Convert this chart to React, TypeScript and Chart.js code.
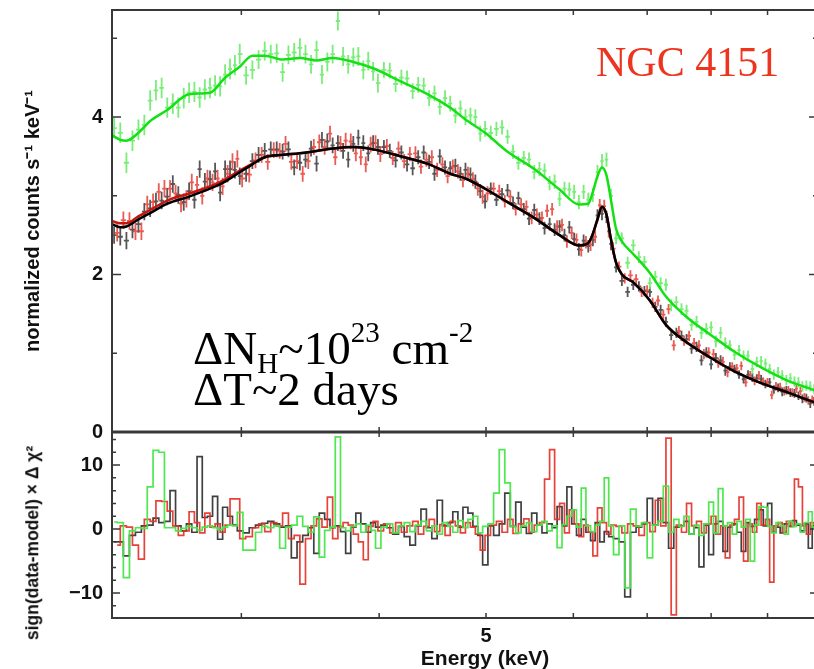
import React, { useEffect, useRef } from "react";
import { Chart, registerables } from "chart.js";

Chart.register(...registerables);

// ---------- data ----------
const energy = [
  2.30, 2.33, 2.36, 2.39, 2.42, 2.45, 2.48, 2.51, 2.54, 2.57, 2.60, 2.63, 2.66, 2.69, 2.72, 2.75, 2.78, 2.81, 2.84, 2.87, 2.90, 2.93, 2.96, 2.99,
  3.03, 3.07, 3.11, 3.15, 3.19, 3.23, 3.27, 3.31, 3.35, 3.39, 3.43, 3.47, 3.51, 3.55, 3.59, 3.63, 3.67, 3.71, 3.75, 3.79, 3.83, 3.87, 3.91, 3.95, 3.99,
  4.04, 4.09, 4.14, 4.19, 4.24, 4.29, 4.34, 4.39, 4.44, 4.49, 4.54, 4.59, 4.64, 4.69, 4.74, 4.79, 4.84, 4.89, 4.94, 4.99,
  5.05, 5.11, 5.17, 5.23, 5.29, 5.35, 5.41, 5.47, 5.53, 5.59, 5.65, 5.71, 5.77, 5.83, 5.89, 5.95, 6.01, 6.07, 6.13, 6.19, 6.25, 6.31, 6.37, 6.43, 6.49,
  6.56, 6.64, 6.72, 6.80, 6.88, 6.96, 7.04, 7.12, 7.20, 7.28, 7.36, 7.44, 7.52, 7.60, 7.68, 7.76, 7.84, 7.92, 8.00, 8.08, 8.16, 8.24, 8.32, 8.40,
  8.48, 8.56, 8.64, 8.72, 8.80, 8.88, 8.96, 9.04, 9.12, 9.20, 9.28, 9.36, 9.44, 9.52, 9.60, 9.68, 9.76, 9.84, 9.92,
];

// the red spectrum is binned half a channel off the black/green one
const energyRed = [
  2.315, 2.345, 2.375, 2.405, 2.435, 2.465, 2.495, 2.525, 2.555, 2.585, 2.615, 2.645, 2.675, 2.705, 2.735, 2.765, 2.795, 2.825, 2.855, 2.885, 2.915, 2.945, 2.975, 3.005,
  3.05, 3.09, 3.13, 3.17, 3.21, 3.25, 3.29, 3.33, 3.37, 3.41, 3.45, 3.49, 3.53, 3.57, 3.61, 3.65, 3.69, 3.73, 3.77, 3.81, 3.85, 3.89, 3.93, 3.97, 4.01,
  4.065, 4.115, 4.165, 4.215, 4.265, 4.315, 4.365, 4.415, 4.465, 4.515, 4.565, 4.615, 4.665, 4.715, 4.765, 4.815, 4.865, 4.915, 4.965, 5.015,
  5.08, 5.14, 5.20, 5.26, 5.32, 5.38, 5.44, 5.50, 5.56, 5.62, 5.68, 5.74, 5.80, 5.86, 5.92, 5.98, 6.04, 6.10, 6.16, 6.22, 6.28, 6.34, 6.40, 6.46, 6.52,
  6.60, 6.68, 6.76, 6.84, 6.92, 7.00, 7.08, 7.16, 7.24, 7.32, 7.40, 7.48, 7.56, 7.64, 7.72, 7.80, 7.88, 7.96, 8.04, 8.12, 8.20, 8.28, 8.36, 8.44,
  8.52, 8.60, 8.68, 8.76, 8.84, 8.92, 9.00, 9.08, 9.16, 9.24, 9.32, 9.40, 9.48, 9.56, 9.64, 9.72, 9.80, 9.88, 9.96,
];

const greenData = [
  3.86, 3.80, 3.42, 3.70, 3.84, 3.90, 4.21, 4.34, 4.37, 4.12,
  4.17, 4.12, 4.24, 4.31, 4.32, 4.25, 4.35, 4.37, 4.40, 4.39,
  4.54, 4.61, 4.66, 4.80, 4.53, 4.60, 4.73, 4.84, 4.80, 4.81,
  4.57, 4.79, 4.82, 4.88, 4.80, 4.67, 4.85, 4.54, 4.70, 4.80,
  5.22, 4.77, 4.67, 4.76, 4.77, 4.60, 4.71, 4.58, 4.43, 4.60,
  4.59, 4.42, 4.50, 4.49, 4.33, 4.41, 4.40, 4.24, 4.30, 4.13,
  4.24, 4.17, 4.02, 4.11, 4.00, 4.02, 4.00, 3.79, 3.85, 3.80,
  3.85, 3.87, 3.75, 3.56, 3.42, 3.48, 3.46, 3.30, 3.34, 3.32,
  3.16, 3.18, 2.96, 3.09, 3.08, 3.05, 2.92, 3.05, 2.95, 3.01,
  3.30, 3.44, 3.46, 3.00, 2.46, 2.46, 2.15, 2.37, 2.22, 2.16,
  1.89, 1.97, 1.89, 1.87, 1.61, 1.65, 1.56, 1.54, 1.36, 1.40,
  1.26, 1.31, 1.33, 1.15, 1.26, 1.13, 1.10, 0.98, 1.04, 0.97,
  0.97, 0.80, 0.89, 0.90, 0.87, 0.80, 0.73, 0.76, 0.72, 0.66,
  0.68, 0.64, 0.63, 0.58, 0.59, 0.58, 0.54,
];

const blackData = [
  2.50, 2.48, 2.43, 2.57, 2.64, 2.80, 2.84, 2.93, 2.94, 2.99,
  3.15, 3.01, 2.92, 3.06, 2.95, 3.34, 3.18, 3.21, 3.31, 3.04,
  3.34, 3.34, 3.33, 3.25, 3.28, 3.44, 3.52, 3.57, 3.59, 3.59,
  3.56, 3.59, 3.36, 3.42, 3.46, 3.60, 3.41, 3.71, 3.69, 3.64,
  3.67, 3.57, 3.46, 3.66, 3.74, 3.67, 3.54, 3.67, 3.62, 3.62,
  3.57, 3.45, 3.55, 3.40, 3.35, 3.49, 3.55, 3.43, 3.28, 3.50,
  3.36, 3.35, 3.38, 3.28, 3.33, 3.27, 3.18, 3.06, 2.93, 3.09,
  2.95, 3.02, 3.07, 2.91, 2.97, 2.83, 2.71, 2.82, 2.71, 2.59,
  2.64, 2.57, 2.61, 2.50, 2.60, 2.45, 2.32, 2.43, 2.36, 2.44,
  2.75, 2.77, 2.73, 2.39, 2.09, 1.92, 1.78, 1.87, 1.85, 1.79,
  1.78, 1.59, 1.55, 1.40, 1.23, 1.26, 1.22, 1.18, 1.06, 1.08,
  0.91, 1.01, 0.86, 0.94, 0.91, 0.78, 0.83, 0.80, 0.73, 0.67,
  0.73, 0.69, 0.68, 0.67, 0.61, 0.63, 0.54, 0.56, 0.51, 0.53,
  0.50, 0.49, 0.46, 0.42, 0.43, 0.36, 0.39,
];

const redData = [
  2.53, 2.69, 2.68, 2.55, 2.55, 2.89, 2.92, 3.05, 3.09, 3.09,
  3.03, 2.90, 2.96, 3.17, 3.14, 3.00, 3.22, 3.17, 3.22, 3.12,
  3.28, 3.43, 3.47, 3.22, 3.27, 3.45, 3.52, 3.43, 3.58, 3.57,
  3.66, 3.43, 3.44, 3.28, 3.44, 3.62, 3.68, 3.62, 3.79, 3.49,
  3.66, 3.70, 3.69, 3.54, 3.49, 3.40, 3.65, 3.67, 3.53, 3.63,
  3.48, 3.60, 3.44, 3.53, 3.54, 3.37, 3.46, 3.49, 3.33, 3.40,
  3.25, 3.37, 3.31, 3.20, 3.28, 3.21, 3.09, 2.99, 3.03, 3.09,
  3.06, 2.93, 2.99, 2.83, 2.89, 2.86, 2.72, 2.76, 2.72, 2.81,
  2.83, 2.61, 2.63, 2.42, 2.53, 2.44, 2.31, 2.41, 2.38, 2.48,
  2.88, 2.87, 2.55, 2.33, 2.10, 1.95, 1.99, 1.94, 1.78, 1.80,
  1.64, 1.67, 1.49, 1.56, 1.10, 1.28, 1.16, 1.22, 1.13, 1.10,
  0.99, 1.01, 0.99, 0.88, 0.89, 0.76, 0.83, 0.81, 0.84, 0.63,
  0.72, 0.65, 0.72, 0.64, 0.63, 0.47, 0.58, 0.57, 0.52, 0.53,
  0.50, 0.55, 0.52, 0.44, 0.40, 0.41, 0.39,
];

const greenErr = [
  0.13, 0.13, 0.13, 0.13, 0.13, 0.13, 0.13, 0.13, 0.13, 0.13, 0.13, 0.13, 0.13, 0.13, 0.13, 0.13, 0.13, 0.13, 0.13, 0.13, 0.13, 0.13, 0.13, 0.13,
  0.12, 0.12, 0.12, 0.12, 0.12, 0.12, 0.12, 0.12, 0.12, 0.12, 0.12, 0.12, 0.12, 0.12, 0.12, 0.12, 0.12, 0.12, 0.12, 0.12, 0.12, 0.12, 0.12, 0.12, 0.12,
  0.10, 0.10, 0.10, 0.10, 0.10, 0.10, 0.10, 0.10, 0.10, 0.10, 0.10, 0.10, 0.10, 0.10, 0.10, 0.10, 0.10, 0.10, 0.10, 0.10,
  0.09, 0.09, 0.09, 0.09, 0.09, 0.09, 0.09, 0.09, 0.09, 0.09, 0.09, 0.09, 0.09, 0.09, 0.09, 0.09, 0.09, 0.09, 0.09, 0.09, 0.09, 0.09, 0.09, 0.09, 0.09,
  0.075, 0.075, 0.075, 0.075, 0.075, 0.075, 0.075, 0.075, 0.075, 0.075, 0.075, 0.075, 0.075, 0.075, 0.075, 0.075, 0.075, 0.075, 0.075, 0.075, 0.075, 0.075,
  0.065, 0.065, 0.065, 0.065, 0.065, 0.065, 0.065, 0.065, 0.065, 0.065, 0.065, 0.065, 0.065, 0.065, 0.065, 0.065, 0.065, 0.065, 0.065, 0.065, 0.065,
];

const blackErr = [
  0.11, 0.11, 0.11, 0.11, 0.11, 0.11, 0.11, 0.11, 0.11, 0.11, 0.11, 0.11, 0.11, 0.11, 0.11, 0.11, 0.11, 0.11, 0.11, 0.11, 0.11, 0.11, 0.11, 0.11,
  0.10, 0.10, 0.10, 0.10, 0.10, 0.10, 0.10, 0.10, 0.10, 0.10, 0.10, 0.10, 0.10, 0.10, 0.10, 0.10, 0.10, 0.10, 0.10, 0.10, 0.10, 0.10, 0.10, 0.10, 0.10,
  0.09, 0.09, 0.09, 0.09, 0.09, 0.09, 0.09, 0.09, 0.09, 0.09, 0.09, 0.09, 0.09, 0.09, 0.09, 0.09, 0.09, 0.09, 0.09, 0.09,
  0.08, 0.08, 0.08, 0.08, 0.08, 0.08, 0.08, 0.08, 0.08, 0.08, 0.08, 0.08, 0.08, 0.08, 0.08, 0.08, 0.08, 0.08, 0.08, 0.08, 0.08, 0.08, 0.08, 0.08, 0.08,
  0.065, 0.065, 0.065, 0.065, 0.065, 0.065, 0.065, 0.065, 0.065, 0.065, 0.065, 0.065, 0.065, 0.065, 0.065, 0.065, 0.065, 0.065, 0.065, 0.065, 0.065, 0.065,
  0.055, 0.055, 0.055, 0.055, 0.055, 0.055, 0.055, 0.055, 0.055, 0.055, 0.055, 0.055, 0.055, 0.055, 0.055, 0.055, 0.055, 0.055, 0.055, 0.055, 0.055,
];

const modelEnergy = [
  2.29, 2.33, 2.36, 2.42, 2.48, 2.57, 2.69, 2.81, 2.90, 2.99, 3.07, 3.15, 3.27, 3.39, 3.51, 3.63, 3.79, 3.95, 4.19, 4.44, 4.64, 4.79,
  4.99, 5.23, 5.53, 5.83, 6.07, 6.19, 6.25, 6.31, 6.37, 6.43, 6.49, 6.56, 6.64, 6.80, 7.04, 7.28, 7.60, 8.00, 8.40, 8.88, 9.36, 9.92, 10.0,
];
const greenModel = [
  3.77, 3.71, 3.70, 3.80, 3.95, 4.09, 4.29, 4.31, 4.50, 4.64, 4.78, 4.78, 4.73, 4.75, 4.72, 4.75, 4.70, 4.62, 4.45, 4.28, 4.12, 3.97,
  3.80, 3.56, 3.34, 3.08, 2.89, 2.90, 3.05, 3.25, 3.36, 3.26, 2.95, 2.58, 2.42, 2.26, 2.02, 1.72, 1.46, 1.23, 1.02, 0.82, 0.66, 0.53, 0.51,
];
const blackModel = [
  2.64, 2.60, 2.61, 2.70, 2.78, 2.90, 2.99, 3.09, 3.18, 3.30, 3.40, 3.49, 3.52, 3.54, 3.57, 3.60, 3.62, 3.59, 3.50, 3.40, 3.28, 3.22,
  3.09, 2.92, 2.72, 2.50, 2.37, 2.40, 2.52, 2.70, 2.86, 2.76, 2.45, 2.15, 2.00, 1.90, 1.67, 1.36, 1.14, 0.94, 0.77, 0.62, 0.51, 0.38, 0.37,
];
const redModel = [
  2.68, 2.65, 2.65, 2.74, 2.82, 2.94, 3.03, 3.12, 3.21, 3.32, 3.41, 3.49, 3.52, 3.54, 3.57, 3.60, 3.62, 3.59, 3.50, 3.40, 3.28, 3.22,
  3.09, 2.92, 2.72, 2.50, 2.37, 2.40, 2.52, 2.70, 2.86, 2.76, 2.45, 2.15, 2.00, 1.90, 1.67, 1.36, 1.14, 0.94, 0.77, 0.62, 0.51, 0.38, 0.37,
];

const greenResid = [
  1.1, 1.0, -7.6, -0.3, 0.2, 0.1, 6.6, 12.3, 12.0, 0.2,
  0.2, -0.3, 0.1, 0.4, 0.2, -0.2, 0.3, 0.5, 0.2, -0.1,
  0.3, 0.6, 0.5, 2.6, -3.3, -3.3, -0.5, 0.4, 0.2, 0.5,
  -3.0, 0.3, 0.6, 2.0, 0.4, -0.5, 1.9, -4.4, -0.2, 0.3,
  14.4, 0.2, -0.3, 0.4, 0.8, -0.5, 0.6, -0.2, -3.0, 0.3,
  0.8, -0.6, 0.5, 1.0, -0.4, 0.6, 1.2, -0.3, 0.5, -0.8,
  1.0, 0.4, -0.5, 1.3, 0.2, 1.5, 2.0, -0.6, 0.4, 0.8,
  5.6, 12.4, 7.2, 0.4, -0.6, 0.5, 1.0, -0.4, 0.6, 1.2,
  -0.3, 0.5, -2.9, 0.7, 2.0, 3.0, 0.3, 6.4, 0.5, -0.4,
  0.6, 1.2, 8.0, 0.5, -4.0, 0.5, -9.2, 3.1, 0.4, 1.0,
  -4.5, 0.6, 1.2, 6.7, -0.5, 1.5, 0.4, 2.0, -0.8, 0.6,
  -1.0, 0.8, 4.2, -0.6, 6.3, 0.5, 1.0, -0.8, 1.2, 0.3,
  1.5, -5.0, 0.6, 3.5, 3.4, 0.4, -0.6, 1.0, 0.5, -0.8,
  1.2, 0.4, 0.8, -0.5, 1.0, 2.7, 0.3,
];

const blackResid = [
  -2.0, -2.0, -4.2, -1.0, -0.5, 0.5, 0.6, 1.7, 1.0, 1.2,
  6.0, 0.5, -0.3, 0.8, -0.5, 11.3, 1.8, 2.0, 5.1, -1.6,
  3.4, 2.0, 0.6, -0.3, -0.6, 0.2, 0.6, 0.9, 1.2, 0.8,
  0.3, 0.5, -4.5, -2.0, -1.0, 0.2, -3.8, 2.5, 1.5, 0.2,
  0.5, -0.4, -3.8, 0.3, 2.5, 0.8, -0.5, 1.0, 0.3, 0.6,
  0.2, -0.8, 0.4, -1.2, -2.5, 0.5, 3.1, 0.2, -1.5, 4.5,
  0.5, 1.0, 2.7, 0.3, 3.4, 2.5, 0.4, -1.0, -5.6, 0.5,
  -1.0, 0.8, 5.6, 0.4, 4.2, 0.3, -0.7, 2.5, 0.6, -0.6,
  0.8, 0.2, 3.5, 0.5, 6.6, 0.8, -1.0, 1.5, -0.5, -1.8,
  1.0, -2.0, -0.4, -1.2, -1.5, -2.0, -10.6, -0.5, 0.3, 0.8,
  4.8, 0.6, 4.8, 1.0, -3.0, 0.3, 0.5, 1.2, -0.8, 0.2,
  -5.9, 0.6, -4.0, 0.8, 1.2, -3.5, 0.3, 0.8, -0.5, -3.5,
  1.0, 0.4, 1.5, 3.0, 0.5, 4.0, -0.5, 0.3, -0.6, 0.8,
  0.4, 1.3, 0.6, -0.3, 0.8, -3.0, 0.5,
];

const redResid = [
  -2.5, 0.5, 0.3, -2.5, -4.7, 1.5, 1.2, 4.4, 4.3, 2.8,
  0.5, -1.0, -0.3, 2.7, 1.0, -0.6, 2.5, 0.3, 0.8, -0.5,
  0.6, 4.7, 4.7, -1.5, -1.2, 0.2, 0.8, -0.4, 1.0, 0.5,
  2.5, -1.5, -1.0, -8.6, -1.5, 0.5, 1.6, 0.3, 5.0, -1.5,
  0.3, 1.0, 0.6, -0.8, -2.0, -4.8, 0.4, 1.2, -0.3, 0.8,
  -0.6, 1.0, -0.5, 0.5, 1.2, -0.8, 0.4, 1.5, -0.4, 0.7,
  -1.0, 1.2, 0.5, -0.6, 1.0, 0.3, -0.8, -3.3, -1.0, 0.6,
  1.2, -0.5, 1.5, -0.7, 0.8, 1.6, -0.5, 0.6, 1.0, 7.8,
  12.4, 1.5, 4.0, -0.6, 3.0, 0.8, -1.2, 0.6, -0.5, -4.2,
  3.3, 1.0, -0.8, 0.6, 0.4, -0.6, 0.8, 0.5, -1.0, 1.0,
  -0.4, 4.5, 0.5, 14.2, -13.4, 0.6, -0.5, 4.0, 0.5, 1.2,
  -0.6, 0.8, 2.0, -0.8, 0.5, -4.5, 0.6, 1.5, 5.0, -5.0,
  0.8, -0.5, 4.0, 0.6, 1.5, -8.3, 0.5, 1.0, -0.5, 1.2,
  0.4, 7.8, 6.6, 0.5, -0.8, 1.0, 0.3,
];

const xRange = [2.29, 10.0];
const topRange = [0, 5.36];
const residRange = [-13.9, 15.16];
const xLabelTicks = [5];
const xMinorTicks = [3, 4, 5, 6, 7, 8, 9];
const topMajorTicks = [0, 2, 4];
const topMinorTicks = [1, 3, 5];
const residMajorTicks = [-10, 0, 10];
const residMinorTicks = [-12, -8, -6, -4, -2, 2, 4, 6, 8, 12, 14];

// ---------- styling ----------
const SANS = "'Liberation Sans', Arial, Helvetica, sans-serif";
const SERIF = "'Liberation Serif', 'Times New Roman', serif";
const C_GREEN_PT = "rgba(105, 235, 105, 0.9)";
const C_GREEN_LN = "rgb(20, 225, 20)";
const C_RED_PT = "rgba(228, 50, 40, 0.8)";
const C_RED_LN = "rgb(200, 20, 15)";
const C_BLACK_PT = "rgba(30, 30, 30, 0.75)";
const C_BLACK_LN = "rgb(0, 0, 0)";

const pts = (xs: number[], ys: number[]) => xs.map((x, i) => ({ x, y: ys[i] }));
const fmtTick = (v: any) => (Number(v) < 0 ? "\u2212" + String(Math.abs(Number(v))) : String(v));

const crossPlugin = {
  id: "errorCrosses",
  beforeDatasetsDraw(chart: any) {
    const { ctx, chartArea } = chart;
    const xs = chart.scales.x;
    ctx.save();
    ctx.beginPath();
    ctx.rect(chartArea.left, chartArea.top, chartArea.right - chartArea.left, chartArea.bottom - chartArea.top);
    ctx.clip();
    chart.data.datasets.forEach((ds: any) => {
      if (!ds.errorBars) return;
      const ys = chart.scales[ds.yAxisID];
      const d = ds.data;
      ctx.strokeStyle = ds.crossColor;
      ctx.lineWidth = 1.8;
      ctx.beginPath();
      for (let i = 0; i < d.length; i++) {
        const e = d[i].x;
        const v = d[i].y;
        const err = ds.errorBars[i];
        const lo = i > 0 ? (d[i - 1].x + e) / 2 : e - (d[1].x - e) / 2;
        const hi = i < d.length - 1 ? (d[i + 1].x + e) / 2 : e + (e - d[i - 1].x) / 2;
        const px = xs.getPixelForValue(e);
        const py = ys.getPixelForValue(v);
        ctx.moveTo(xs.getPixelForValue(lo) + 0.5, py);
        ctx.lineTo(xs.getPixelForValue(hi) - 0.5, py);
        ctx.moveTo(px, ys.getPixelForValue(v - err));
        ctx.lineTo(px, ys.getPixelForValue(v + err));
      }
      ctx.stroke();
    });
    ctx.restore();
  },
};

const framePlugin = {
  id: "frame",
  afterDatasetsDraw(chart: any) {
    const { ctx } = chart;
    const xs = chart.scales.x;
    const yt = chart.scales.y;
    const yb = chart.scales.y2;
    const L = xs.left, R = xs.right, T = yt.top, M = yt.bottom, B = yb.bottom;
    ctx.save();
    ctx.strokeStyle = "#383838";
    ctx.lineWidth = 2;
    ctx.strokeRect(L, T, R - L, B - T);
    ctx.lineWidth = 3;
    ctx.beginPath();
    ctx.moveTo(L, M);
    ctx.lineTo(R, M);
    ctx.stroke();
    ctx.lineWidth = 1.5;
    ctx.beginPath();
    xMinorTicks.forEach((v) => {
      const p = xs.getPixelForValue(v);
      ctx.moveTo(p, T); ctx.lineTo(p, T + 5);
      ctx.moveTo(p, M - 5); ctx.lineTo(p, M + 5);
      ctx.moveTo(p, B); ctx.lineTo(p, B - 5);
    });
    const yTick = (s: any, v: number, len: number) => {
      const p = s.getPixelForValue(v);
      ctx.moveTo(L, p); ctx.lineTo(L + len, p);
      ctx.moveTo(R, p); ctx.lineTo(R - len, p);
    };
    topMajorTicks.forEach((v) => yTick(yt, v, 9));
    topMinorTicks.forEach((v) => yTick(yt, v, 5));
    residMajorTicks.forEach((v) => yTick(yb, v, 8));
    residMinorTicks.forEach((v) => yTick(yb, v, 4));
    ctx.stroke();
    ctx.restore();
  },
};

const tickFont = { family: SANS, size: 20, weight: "bold" as const };
const topTitleFont = { family: SANS, size: 20, weight: "bold" as const };

export default function App() {
  const ref = useRef<HTMLCanvasElement | null>(null);

  useEffect(() => {
    if (!ref.current) return;
    const chart = new Chart(ref.current, {
      type: "line",
      data: {
        datasets: [
          { label: "black data", data: pts(energy, blackData), yAxisID: "y", showLine: false, pointRadius: 0, errorBars: blackErr, crossColor: C_BLACK_PT, order: 10 } as any,
          { label: "red data", data: pts(energyRed, redData), yAxisID: "y", showLine: false, pointRadius: 0, errorBars: blackErr, crossColor: C_RED_PT, order: 10 } as any,
          { label: "green data", data: pts(energy, greenData), yAxisID: "y", showLine: false, pointRadius: 0, errorBars: greenErr, crossColor: C_GREEN_PT, order: 10 } as any,
          { label: "red model", data: pts(modelEnergy, redModel), yAxisID: "y", borderColor: C_RED_LN, borderWidth: 2.5, pointRadius: 0, cubicInterpolationMode: "monotone", order: 3 },
          { label: "black model", data: pts(modelEnergy, blackModel), yAxisID: "y", borderColor: C_BLACK_LN, borderWidth: 2.5, pointRadius: 0, cubicInterpolationMode: "monotone", order: 2 },
          { label: "green model", data: pts(modelEnergy, greenModel), yAxisID: "y", borderColor: C_GREEN_LN, borderWidth: 2.5, pointRadius: 0, cubicInterpolationMode: "monotone", order: 1 },
          { label: "black resid", data: pts(energy, blackResid), yAxisID: "y2", borderColor: "rgba(30,30,30,0.85)", borderWidth: 1.7, pointRadius: 0, stepped: "middle", order: 6 },
          { label: "red resid", data: pts(energyRed, redResid), yAxisID: "y2", borderColor: "rgba(228,45,35,0.9)", borderWidth: 1.7, pointRadius: 0, stepped: "middle", order: 5 },
          { label: "green resid", data: pts(energy, greenResid), yAxisID: "y2", borderColor: "rgba(70,230,70,0.95)", borderWidth: 1.7, pointRadius: 0, stepped: "middle", order: 4 },
        ],
      },
      options: {
        animation: false,
        responsive: false,
        events: [],
        layout: { padding: { top: 10, right: 12, left: 0, bottom: 0 } },
        plugins: { legend: { display: false }, tooltip: { enabled: false } },
        scales: {
          x: {
            type: "logarithmic",
            position: "bottom",
            min: xRange[0],
            max: xRange[1],
            grid: { display: false, drawTicks: false },
            border: { display: false },
            ticks: { font: tickFont, color: "#111", padding: 6, maxRotation: 0, autoSkip: false, callback: (v: any) => String(v) },
            afterBuildTicks: (s: any) => { s.ticks = xLabelTicks.map((v) => ({ value: v })); },
            afterFit: (s: any) => { s.height = 51; s.paddingLeft = 0; s.paddingRight = 0; },
            title: { display: false },
          },
          y2: {
            type: "linear",
            position: "left",
            stack: "panels",
            stackWeight: 186,
            min: residRange[0],
            max: residRange[1],
            grid: { display: false, drawTicks: false },
            border: { display: false },
            ticks: { font: tickFont, color: "#111", padding: 9, callback: fmtTick },
            afterBuildTicks: (s: any) => { s.ticks = residMajorTicks.map((v) => ({ value: v })); },
            afterFit: (s: any) => { s.width = 112; s.paddingTop = 0; s.paddingBottom = 0; },
            title: { display: false },
          },
          y: {
            type: "linear",
            position: "left",
            stack: "panels",
            stackWeight: 422,
            min: topRange[0],
            max: topRange[1],
            grid: { display: false, drawTicks: false },
            border: { display: false },
            ticks: { font: tickFont, color: "#111", padding: 9, callback: fmtTick },
            afterBuildTicks: (s: any) => { s.ticks = topMajorTicks.map((v) => ({ value: v })); },
            afterFit: (s: any) => { s.width = 112; s.paddingTop = 0; s.paddingBottom = 0; },
            title: { display: true, text: "normalized counts s\u207B\u00B9 keV\u207B\u00B9", font: topTitleFont, color: "#111", padding: { top: 21, bottom: 0 } },
          },
        },
      } as any,
      plugins: [crossPlugin, framePlugin],
    });
    return () => chart.destroy();
  }, []);

  const supStyle: React.CSSProperties = { fontSize: "0.62em", position: "relative", top: "-0.75em" };
  const subStyle: React.CSSProperties = { fontSize: "0.62em", position: "relative", top: "0.3em" };

  return (
    <div style={{ position: "fixed", left: 0, top: 0, width: 814, height: 669, overflow: "hidden", background: "#fff" }}>
      <canvas ref={ref} width={830} height={669} style={{ display: "block", width: 830, height: 669 }} />
      <div style={{ position: "absolute", left: 485, top: 647, transform: "translateX(-50%)", fontFamily: SANS, fontWeight: "bold", fontSize: 21, lineHeight: 1, color: "#111", whiteSpace: "nowrap" }}>
        Energy (keV)
      </div>
      <div style={{ position: "absolute", left: 33, top: 543, transform: "translate(-50%, -50%) rotate(-90deg)", fontFamily: SANS, fontWeight: "bold", fontSize: 17.5, lineHeight: 1, color: "#111", whiteSpace: "nowrap" }}>
        sign(data-model) × Δ χ²
      </div>
      <div style={{ position: "absolute", left: 596, top: 41, fontFamily: SERIF, fontSize: 42, lineHeight: 1, color: "rgb(236, 52, 30)", whiteSpace: "nowrap" }}>
        NGC 4151
      </div>
      <div style={{ position: "absolute", left: 193, top: 325, fontFamily: SERIF, fontSize: 47, lineHeight: 1, color: "#000", whiteSpace: "nowrap" }}>
        ΔN<span style={subStyle}>H</span>~10<span style={supStyle}>23</span> cm<span style={supStyle}>-2</span>
      </div>
      <div style={{ position: "absolute", left: 193, top: 366, fontFamily: SERIF, fontSize: 47, lineHeight: 1, color: "#000", whiteSpace: "nowrap" }}>
        ΔT~2 days
      </div>
    </div>
  );
}
